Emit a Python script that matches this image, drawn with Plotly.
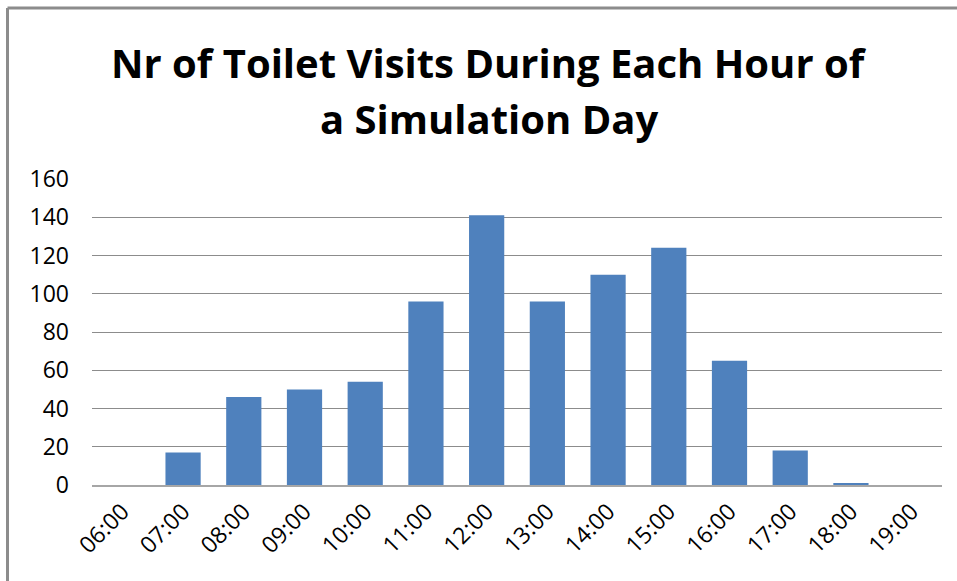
import plotly.graph_objects as go

hours = ["06:00", "07:00", "08:00", "09:00", "10:00", "11:00", "12:00",
         "13:00", "14:00", "15:00", "16:00", "17:00", "18:00", "19:00"]
visits = [0, 17, 46, 50, 54, 96, 141, 96, 110, 124, 65, 18, 1, 0]
title_lines = ["Nr of Toilet Visits During Each Hour of", "a Simulation Day"]
y_ticks = [0, 20, 40, 60, 80, 100, 120, 140, 160]

W, H = 957, 581
ml, mr, mt, mb = 92, 15, 179, 96
pw, ph = W - ml - mr, H - mt - mb

def px_x(p):
    return (p - ml) / pw

def px_y(p):
    return (H - mb - p) / ph

font = "'Open Sans', Lato, sans-serif"
title_font = "'Open Sans', Lato, sans-serif"

fig = go.Figure(go.Bar(
    x=hours, y=visits,
    marker=dict(color="#4F81BD", line=dict(width=0)),
    width=0.58,
))

fig.update_layout(
    width=W, height=H,
    margin=dict(l=ml, r=mr, t=mt, b=mb),
    paper_bgcolor="white", plot_bgcolor="white",
    showlegend=False,
    font=dict(family=font, size=23, color="#000000"),
)
fig.update_xaxes(
    type="category", tickangle=-45, showgrid=False,
    showline=True, linecolor="#A6A6A6", linewidth=2,
    ticks="", tickfont=dict(size=23, family=font), ticklabelstandoff=2,
)
fig.update_yaxes(
    range=[0, 160], tickvals=y_ticks, showgrid=True,
    gridcolor="#8C8C8C", gridwidth=1, zeroline=False,
    showline=False, ticks="", ticklabelstandoff=22,
    tickfont=dict(size=23, family=font),
)

for i, (line, ypix) in enumerate(zip(title_lines, [62, 118])):
    fig.add_annotation(
        text="<b>%s</b>" % line, xref="paper", yref="paper",
        x=px_x(489), y=px_y(ypix), xanchor="center", yanchor="middle",
        showarrow=False, font=dict(family=title_font, size=40, color="#000000"),
    )

# outer frame (top and left edges visible)
fig.add_shape(type="line", xref="paper", yref="paper",
              x0=px_x(7.5), x1=px_x(960), y0=px_y(8), y1=px_y(8),
              line=dict(color="#8C8C8C", width=3))
fig.add_shape(type="line", xref="paper", yref="paper",
              x0=px_x(7.5), x1=px_x(7.5), y0=px_y(8), y1=px_y(590),
              line=dict(color="#8C8C8C", width=3))

fig.write_html("out.html")
